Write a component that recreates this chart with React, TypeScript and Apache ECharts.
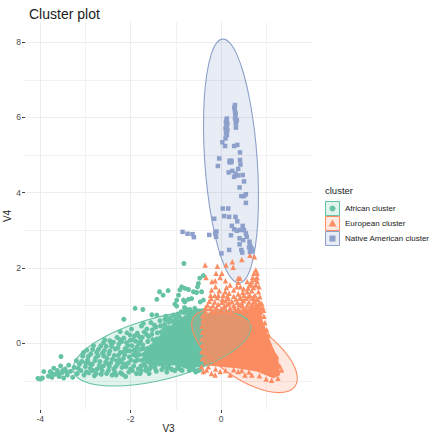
import React, { useEffect, useRef } from "react";
import * as echarts from "echarts";

const FONT = "'Liberation Sans', Arial, sans-serif";
const GREEN = "#66C2A5";
const ORANGE = "#FC8D62";
const BLUE = "#8DA0CB";

const clusterNames = ["African cluster", "European cluster", "Native American cluster"];
const xMajorTicks = [-4, -2, 0];
const xMinorTicks = [-3, -1, 1];
const yMajorTicks = [0, 2, 4, 6, 8];
const yMinorTicks = [-1, 1, 3, 5, 7];

const blueEllipse = [[0.044,8.08],[0.201,7.972],[0.359,7.648],[0.508,7.133],[0.636,6.462],[0.737,5.681],[0.803,4.842],[0.829,4.003],[0.814,3.222],[0.758,2.551],[0.665,2.036],[0.543,1.712],[0.398,1.602],[0.241,1.712],[0.083,2.036],[-0.066,2.551],[-0.194,3.222],[-0.295,4.003],[-0.361,4.842],[-0.387,5.681],[-0.372,6.462],[-0.316,7.133],[-0.223,7.648],[-0.101,7.972]];
const greenEllipse = [[-0.243,0.884],[0.151,0.85],[0.445,0.749],[0.619,0.588],[0.663,0.38],[0.572,0.136],[0.354,-0.125],[0.022,-0.386],[-0.399,-0.63],[-0.883,-0.838],[-1.395,-0.999],[-1.901,-1.1],[-2.367,-1.134],[-2.761,-1.1],[-3.055,-0.999],[-3.229,-0.838],[-3.273,-0.63],[-3.182,-0.386],[-2.964,-0.125],[-2.632,0.136],[-2.211,0.38],[-1.727,0.588],[-1.215,0.749],[-0.709,0.85]];
const orangeEllipse = [[-0.243,0.885],[0.012,0.848],[0.302,0.738],[0.606,0.564],[0.904,0.337],[1.177,0.072],[1.405,-0.212],[1.573,-0.496],[1.668,-0.761],[1.686,-0.988],[1.624,-1.162],[1.486,-1.272],[1.283,-1.309],[1.028,-1.272],[0.738,-1.162],[0.434,-0.988],[0.136,-0.761],[-0.137,-0.496],[-0.365,-0.212],[-0.533,0.072],[-0.628,0.337],[-0.646,0.564],[-0.584,0.738],[-0.446,0.848]];

// Solid, fully over-plotted parts of the two dense clouds, read as outlines
const greenMass = [[-0.32,0.93],[-0.6,0.92],[-0.85,0.7],[-1.15,0.45],[-1.45,0.1],[-1.7,-0.2],[-1.75,-0.45],[-1.4,-0.6],[-1,-0.58],[-0.76,-0.68],[-0.32,-0.6]];
const orangeMass = [[-0.39,0.75],[-0.17,0.86],[0.35,0.86],[0.86,1.0],[0.92,0.62],[1.08,0.09],[1.27,-0.44],[1.31,-0.84],[1.16,-0.93],[0.79,-0.75],[0.35,-0.66],[-0.02,-0.62],[-0.39,-0.58]];

const bluePoints = [[0.31,6.33],[0.3,6.24],[0.31,6.15],[0.32,6.06],[0.31,5.97],[0.35,5.93],[0.33,5.84],[0.33,5.73],[0.13,5.97],[0.11,5.88],[0.14,5.84],[0.13,5.77],[0.1,5.71],[0.14,5.66],[0.11,5.58],[0.13,5.53],[0.1,5.44],[0.03,5.34],[0.09,5.24],[0.29,5.24],[0.36,5.27],[0.42,5.07],[-0.04,4.91],[0.42,4.87],[0.43,4.75],[-0.07,4.71],[0.21,4.83],[0.19,4.85],[0.23,4.85],[0.19,4.81],[0.23,4.81],[0.38,4.63],[0.25,4.58],[0.17,4.54],[0.32,4.51],[0.29,4.42],[0.38,4.46],[0.48,4.47],[0.51,4.3],[0.41,4.14],[0.55,3.96],[0.45,3.91],[0.51,3.91],[0.55,3.73],[0.04,3.58],[0.16,3.58],[-0.15,3.31],[0.07,3.38],[0.18,3.36],[0.32,3.36],[0.36,3.24],[0.24,3.12],[0.29,3.03],[0.35,2.99],[0.42,3.01],[0.48,3.12],[0.51,3.01],[0.55,2.92],[0.57,2.83],[0.22,2.87],[0.41,2.79],[0.49,2.74],[0.41,2.63],[0.63,2.7],[0.64,2.61],[0.68,2.48],[0.64,2.43],[0.45,2.48],[0.47,2.41],[0.18,2.48],[0.01,2.39],[-0.85,2.96],[-0.74,2.91],[-0.63,2.9],[-0.6,2.82],[-0.26,2.88],[-0.1,2.97],[-0.13,2.92],[-0.11,2.83],[0.12,5.92],[0.12,5.8],[0.12,5.62],[0.32,6.1],[0.3,6.28],[0.33,5.9],[0.66,2.55],[0.69,2.5],[0.62,2.55],[0.65,2.47],[0.7,2.45]];

const orangePoints = [[0.64,2.34],[0.74,2.3],[0.46,2.23],[-0.35,2.08],[0.25,2.17],[0.11,2.08],[0.27,2.02],[-0.08,2.05],[-0.11,1.86],[0.02,1.86],[-0.02,1.75],[-0.13,1.66],[-0.2,1.64],[-0.33,1.75],[0.1,1.66],[0.2,1.55],[0.38,1.73],[0.42,1.73],[0.77,1.95],[0.8,1.86],[0.73,1.86],[0.7,1.75],[0.8,1.75],[0.58,1.64],[0.68,1.64],[0.8,1.64],[0.63,1.55],[0.77,1.55],[0.38,1.62],[0.35,1.5],[0.43,1.5],[-0.21,1.42],[-0.04,1.4],[0.09,1.37],[0.18,1.33],[0.48,1.35],[0.58,1.37],[0.68,1.4],[0.83,1.37],[-0.23,1.28],[-0.06,1.28],[0.05,1.28],[0.64,1.28],[0.75,1.28],[0.38,1.31],[0.51,1.28],
[0.5,1.45],[0.6,1.47],[0.72,1.48],[0.28,1.42],[0.12,1.48],[-0.12,1.5],[0.84,1.5],[0.76,1.7],[0.66,1.56],[0.28,1.25],[0.14,1.26],[-0.14,1.27],[0.44,1.2],[0.6,1.24],[0.72,1.22],[0.86,1.24],[0.46,1.08],[0.7,1.06],[0.9,1.06],[0.18,1.07],[-0.34,0.95],[0.92,0.96],
[-0.22,1.19],[-0.08,1.21],[0.03,1.17],[0.16,1.2],[0.33,1.18],[0.42,1.22],[0.55,1.19],[0.69,1.2],[0.8,1.17],[-0.26,1.12],[-0.14,1.1],[0.02,1.09],[0.1,1.13],[0.24,1.11],[0.36,1.09],[0.5,1.13],[0.62,1.1],[0.74,1.12],[0.85,1.09],[-0.3,1.02],[-0.18,1],[-0.06,1.04],[0.08,1],[0.14,1.03],[0.28,1.01],[0.4,1.03],[0.46,0.99],[0.58,1.02],[0.66,0.99],[0.78,1.03],[0.84,1],[-0.24,0.93],[-0.1,0.95],[0,0.92],[0.06,0.95],[0.2,0.93],[0.3,0.95],[0.38,0.92],[0.5,0.94],[0.56,0.91],[0.7,0.95],[0.76,0.92],[0.86,0.94],[-0.34,0.84],[-0.2,0.86],[-0.12,0.83],[0.02,0.85],[0.12,0.87],[0.22,0.84],[0.32,0.87],[0.42,0.85],[0.52,0.87],[0.62,0.84],[0.72,0.87],[0.8,0.85],[0.88,0.83],[-0.41,0.73],[-0.4,0.6],[-0.42,0.46],[-0.41,0.3],[-0.42,0.12],[-0.41,-0.05],[-0.42,-0.22],[-0.41,-0.4],
[0.94,0.88],[0.97,0.55],[1.05,0.22],[1.12,-0.18],[1.23,-0.35],[1.34,-0.71],[1.3,-0.6],[1.18,-0.26],[1.01,0.36],[0.95,0.72],[-0.39,-0.75],[-0.32,-0.71],[-0.21,-0.8],[-0.13,-0.84],[0.2,-0.84],[0.38,-0.75],[0.53,-0.84],[0.68,-0.84],[-0.02,-0.75],[-0.43,-0.62],[0.1,-0.72],[0.28,-0.7],[0.46,-0.72],[0.62,-0.76],[-0.28,-0.62],[-0.12,-0.68],[0.85,-0.86],[1,-0.95],[1.12,-0.98],[1.26,-0.93]];

const greenOutliers = [[-0.82,2.12],[-1.36,1.37],[-1.28,1.28],[-1.17,1.4],[-1.42,1.17],[-1.9,0.93],[-1.73,0.9],[-2.15,0.64],[-1.42,0.75],[-1.53,0.76],[-3.54,-0.35],[-0.39,1.8],[-0.47,1.73],[-0.5,1.59],[-0.52,1.5],[-0.87,1.5],[-0.8,1.46],[-0.91,1.42],[-0.72,1.43],[-0.61,1.37],[-0.54,1.35],[-0.43,1.37],[-0.94,1.28],[-0.98,1.15],[-0.83,1.15],[-1.02,1.04],[-0.98,0.99],[-0.72,1.17],[-0.65,1.19],[-0.8,1.1],[-0.46,1.1],[-0.39,1.15],[-0.81,0.95],[-0.58,0.93],[-0.69,0.9],[-1.05,0.75],[-1.2,0.62],[-1.72,0.53],[-1.76,0.46],[-2.01,0.22],[-2.23,0.31],[-2.46,0.07],[-2.6,0.02]];
const greenTail = [[-4.05,-0.93],[-4,-0.95],[-3.95,-0.92],[-3.92,-0.75],[-3.82,-0.87],[-3.78,-0.75],[-3.74,-0.9],[-3.7,-0.66],[-3.66,-0.82],[-3.62,-0.72],[-3.58,-0.88],[-3.55,-0.6],[-3.52,-0.78],[-3.48,-0.92],[-3.45,-0.68],[-3.4,-0.84],[-3.37,-0.58],[-3.33,-0.74],[-3.28,-0.9],[-3.25,-0.64],[-3.2,-0.46],[-3.18,-0.8],[-3.6,-0.8],[-3.74,-0.8],[-3.5,-0.72],[-3.42,-0.76]];
const greenBand = [[-3.13,-0.55],[-3.1,-0.72],[-3.06,-0.34],[-3.03,-0.84],[-3,-0.62],[-2.97,-0.18],[-2.95,-0.44],[-2.92,-0.78],[-2.88,-0.28],[-2.85,-0.56],[-2.82,-0.06],[-2.8,-0.86],[-2.77,-0.38],[-2.74,-0.68],[-2.71,-0.16],[-2.68,-0.48],[-2.65,-0.82],[-2.62,-0.26],[-2.6,-0.6],[-2.57,0.09],[-2.54,-0.08],[-2.52,-0.4],[-2.49,-0.72],[-2.46,-0.2],[-2.44,-0.52],[-2.41,-0.84],[-2.38,0.03],[-2.36,-0.32],[-2.33,-0.62],[-2.3,0.16],[-2.28,-0.12],[-2.25,-0.44],[-2.22,-0.78],[-2.2,0.05],[-2.17,-0.24],[-2.14,-0.55],[-2.11,-0.88],[-2.08,0.28],[-2.06,-0.06],[-2.03,-0.36],[-2,-0.68],[-1.98,0.38],[-1.95,0.1],[-1.92,-0.18],[-1.9,-0.48],[-1.87,-0.8],[-1.85,0.27],[-1.82,-0.02],[-1.8,-0.3],[-1.77,-0.6],[-1.74,0.16],[-1.72,-0.14],[-1.69,-0.42],[-1.66,-0.72],[-1.64,0.38],[-1.62,0.05],[-1.6,-0.24],[-1.57,-0.52],[-1.55,0.55],[-1.53,0.24],[-1.5,-0.06],[-1.48,-0.36],[-1.46,-0.66],[-1.44,0.43],[-1.42,0.12],[-1.4,-0.2],[-1.38,-0.55],[-1.35,0.6],[-1.33,0.3],[-1.3,-0.02],[-1.28,-0.62],[-1.25,0.5],[-1.22,0.72],[-1.2,-0.66],[-1.15,0.56],[-1.12,0.68],[-1.08,-0.7],[-1,0.66],[-0.95,0.78],[-0.92,-0.68],[-0.88,0.84],[-0.78,0.92],[-0.7,-0.72],[-0.6,-0.7],[-0.5,-0.72],
[-3.16,-0.66],[-3.08,-0.48],[-2.98,-0.76],[-2.9,-0.54],[-2.83,-0.72],[-2.75,-0.24],[-2.67,-0.62],[-2.59,-0.34],[-2.5,-0.55],[-2.42,-0.08],[-2.35,-0.76],[-2.27,-0.32],[-2.19,-0.64],[-2.12,-0.14],[-2.05,-0.52],[-1.96,-0.72],[-1.88,-0.34],[-1.79,-0.8],[-1.7,-0.56],[-1.65,0.24],[-1.58,-0.68],[-1.52,-0.46],[-1.45,0.03],[-1.39,-0.44],[-1.32,0.16],[-1.26,0.38],[-2.31,-0.46],[-2.16,-0.4],[-2.02,-0.2],[-1.86,-0.1],[-1.75,-0.45],[-1.68,-0.28],[-1.61,-0.36],[-1.54,-0.2],[-1.47,-0.56],[-1.78,0.06],[-1.91,0.2],[-2.09,0.02],[-2.24,0.1],
[-3.04,-0.24],[-2.99,-0.52],[-2.93,-0.34],[-2.89,-0.66],[-2.84,-0.16],[-2.79,-0.46],[-2.76,-0.8],[-2.72,-0.33],[-2.69,-0.58],[-2.66,-0.07],[-2.63,-0.72],[-2.58,-0.19],[-2.55,-0.5],[-2.53,-0.8],[-2.48,-0.28],[-2.47,-0.62],[-2.43,0.0],[-2.4,-0.42],[-2.37,-0.68],[-2.34,-0.15],[-2.32,-0.84],[-2.29,-0.55],[-2.26,-0.02],[-2.23,-0.24],[-2.21,-0.5],[-2.18,-0.82],[-2.15,0.14],[-2.13,-0.3],[-2.1,-0.62],[-2.07,-0.2],[-2.04,-0.76],[-2.01,0.08],[-1.99,-0.44],[-1.97,-0.06],[-1.94,-0.3],[-1.93,-0.6],[-1.89,0.06],[-1.87,-0.22],[-1.84,-0.44],[-1.83,-0.68],[-1.81,0.18],[-1.78,-0.16],[-1.76,-0.72],[-1.73,-0.04],[-1.71,-0.3],[-1.7,0.3],[-1.67,-0.62],[-1.64,-0.14],[-1.63,-0.48],[-1.6,0.18],[-1.59,-0.8],[-1.56,-0.1],[-1.55,-0.62],[-1.52,0.36],[-1.51,0.1],[-1.49,-0.28],[-1.47,0.48],[-1.45,-0.14],[-1.43,-0.74],[-1.41,0.28],[-1.38,0.0],[-1.36,-0.3],[-1.34,0.46],[-1.31,-0.7],[-1.29,0.12],[-1.27,-0.16],[-1.24,0.64],[-1.22,0.24],[-1.2,-0.76],[-1.17,0.42],[-1.16,-0.62],[-1.13,0.3],[-1.1,-0.68],[-1.06,0.58],[-1.04,0.44],[-1.02,-0.72],[-0.98,0.58],[-0.96,-0.62],[-0.92,0.7],[-0.86,-0.72],[-0.82,0.82],[-0.74,0.84],[-0.66,-0.66],[-0.56,-0.76],[-0.46,-0.7]];

const LEGEND_KEYS = [
  { top: 201, color: GREEN, kind: "circle" },
  { top: 216, color: ORANGE, kind: "triangle" },
  { top: 231, color: BLUE, kind: "square" },
];

const shapeSeries = (points: number[][], fill: string, fillOpacity: number, stroke: string | null, smooth: number) => ({
  type: "custom",
  coordinateSystem: "cartesian2d",
  xAxisIndex: 0,
  yAxisIndex: 0,
  silent: true,
  clip: false,
  data: points,
  encode: { x: 0, y: 1 },
  renderItem: (params: any, api: any) => {
    if (params.dataIndex !== 0) return null;
    return {
      type: "polygon",
      shape: { points: points.map((p) => api.coord(p)), smooth },
      style: { fill, opacity: 1, fillOpacity, stroke: stroke ?? "none", lineWidth: stroke ? 1.1 : 0 },
    };
  },
});

const scatter = (name: string, data: number[][], symbol: string, symbolSize: number, color: string) => ({
  name,
  type: "scatter",
  xAxisIndex: 0,
  yAxisIndex: 0,
  symbol,
  symbolSize,
  data,
  itemStyle: { color, opacity: 1 },
  silent: true,
});

const hexA = (hex: string, a: number) => {
  const n = parseInt(hex.slice(1), 16);
  return `rgba(${(n >> 16) & 255},${(n >> 8) & 255},${n & 255},${a})`;
};

const axisBase = { min: -4.336, max: 2.013 };
const yBase = { min: -1.77, max: 8.534 };
const labelStyle = { color: "#4d4d4d", fontSize: 8.5, fontFamily: FONT, margin: 4 };
const hiddenLine = { show: false, onZero: false };

export default function App() {
  const ref = useRef<HTMLDivElement>(null);
  useEffect(() => {
    const chart = echarts.init(ref.current!, null, { renderer: "svg" });
    const legendGraphics: any[] = [
      { type: "text", x: 325, y: 185, style: { text: "cluster", fontSize: 9.5, fontFamily: FONT, fill: "#222" } },
    ];
    LEGEND_KEYS.forEach((k, i) => {
      legendGraphics.push({
        type: "rect",
        shape: { x: 325.5, y: k.top + 0.5, width: 14, height: 14 },
        style: { fill: hexA(k.color, 0.2), stroke: k.color, lineWidth: 1 },
      });
      const cx = 332.5;
      const cy = k.top + 7.5;
      if (k.kind === "circle") legendGraphics.push({ type: "circle", shape: { cx, cy, r: 3 }, style: { fill: k.color } });
      if (k.kind === "triangle") legendGraphics.push({ type: "polygon", shape: { points: [[cx, cy - 4], [cx + 4, cy + 3], [cx - 4, cy + 3]] }, style: { fill: k.color } });
      if (k.kind === "square") legendGraphics.push({ type: "rect", shape: { x: cx - 3, y: cy - 3, width: 6, height: 6 }, style: { fill: k.color } });
      legendGraphics.push({
        type: "text",
        x: 345,
        y: k.top + 7.5,
        style: { text: clusterNames[i], fontSize: 8, fontFamily: FONT, fill: "#222", textVerticalAlign: "middle" },
      });
    });

    chart.setOption({
      animation: false,
      backgroundColor: "#ffffff",
      title: { text: "Cluster plot", left: 24, top: 2, textStyle: { fontSize: 14, fontWeight: "normal", color: "#1a1a1a", fontFamily: FONT } },
      grid: { left: 25, right: 122, top: 22, bottom: 30, outerBoundsMode: "none" },
      xAxis: [
        {
          type: "value", ...axisBase, position: "bottom", name: "V3", nameLocation: "middle", nameGap: 13, nameMoveOverlap: false,
          nameTextStyle: { fontSize: 10, color: "#222", fontFamily: FONT },
          axisLine: hiddenLine,
          axisTick: { show: true, length: 3, customValues: xMajorTicks, lineStyle: { color: "#444", width: 1 } },
          axisLabel: { ...labelStyle, customValues: xMajorTicks },
          splitLine: { show: true, lineStyle: { color: "#ececec", width: 1 } },
        },
        {
          type: "value", ...axisBase, position: "bottom",
          axisLine: hiddenLine,
          axisTick: { show: false, customValues: xMinorTicks },
          axisLabel: { show: false, customValues: xMinorTicks },
          splitLine: { show: true, lineStyle: { color: "#f1f1f1", width: 1 } },
        },
      ],
      yAxis: [
        {
          type: "value", ...yBase, position: "left", name: "V4", nameLocation: "middle", nameGap: 13, nameMoveOverlap: false,
          nameTextStyle: { fontSize: 10, color: "#222", fontFamily: FONT },
          axisLine: hiddenLine,
          axisTick: { show: true, length: 3, customValues: yMajorTicks, lineStyle: { color: "#444", width: 1 } },
          axisLabel: { ...labelStyle, customValues: yMajorTicks },
          splitLine: { show: true, lineStyle: { color: "#ececec", width: 1 } },
        },
        {
          type: "value", ...yBase, position: "left",
          axisLine: hiddenLine,
          axisTick: { show: false, customValues: yMinorTicks },
          axisLabel: { show: false, customValues: yMinorTicks },
          splitLine: { show: true, lineStyle: { color: "#f1f1f1", width: 1 } },
        },
      ],
      series: [
        shapeSeries(greenMass, GREEN, 1, null, 0),
        scatter(clusterNames[0], [...greenOutliers, ...greenTail, ...greenBand], "circle", 5, GREEN),
        shapeSeries(orangeMass, ORANGE, 1, null, 0),
        scatter(clusterNames[1], orangePoints, "triangle", 5.5, ORANGE),
        scatter(clusterNames[2], bluePoints, "rect", 4.5, BLUE),
        shapeSeries(greenEllipse, GREEN, 0.2, GREEN, 0.33),
        shapeSeries(orangeEllipse, ORANGE, 0.2, ORANGE, 0.33),
        shapeSeries(blueEllipse, BLUE, 0.2, BLUE, 0.33),
      ],
      graphic: legendGraphics,
    });
    return () => chart.dispose();
  }, []);
  return <div ref={ref} style={{ width: 434, height: 440, position: "absolute", left: 0, top: 0 }} />;
}
